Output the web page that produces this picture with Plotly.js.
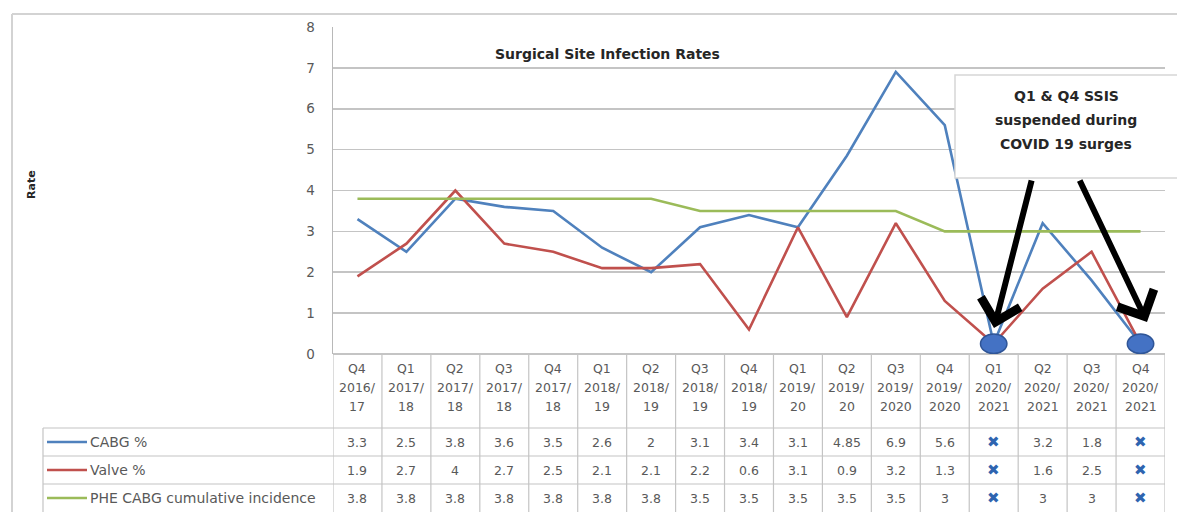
<!DOCTYPE html>
<html><head><meta charset="utf-8">
<script src="https://cdn.plot.ly/plotly-3.0.1.min.js"></script>
<style>html,body{margin:0;padding:0;background:#fff}#chart{width:1177px;height:512px}</style>
</head><body><div id="chart"></div>
<script>
// ---- data ----
const categories = ['Q4 2016/17','Q1 2017/18','Q2 2017/18','Q3 2017/18','Q4 2017/18','Q1 2018/19','Q2 2018/19','Q3 2018/19','Q4 2018/19','Q1 2019/20','Q2 2019/20','Q3 2019/2020','Q4 2019/2020','Q1 2020/2021','Q2 2020/2021','Q3 2020/2021','Q4 2020/2021'];
const cabgTable  = ['3.3','2.5','3.8','3.6','3.5','2.6','2','3.1','3.4','3.1','4.85','6.9','5.6','✖','3.2','1.8','✖'];
const valveTable = ['1.9','2.7','4','2.7','2.5','2.1','2.1','2.2','0.6','3.1','0.9','3.2','1.3','✖','1.6','2.5','✖'];
const pheTable   = ['3.8','3.8','3.8','3.8','3.8','3.8','3.8','3.5','3.5','3.5','3.5','3.5','3','✖','3','3','✖'];
// values as drawn in the chart (suspended quarters drawn near zero)
const cabgPlot  = [3.3,2.5,3.8,3.6,3.5,2.6,2,3.1,3.4,3.1,4.85,6.9,5.6,0.25,3.2,1.8,0.25];
const valvePlot = [1.9,2.7,4,2.7,2.5,2.1,2.1,2.2,0.6,3.1,0.9,3.2,1.3,0.25,1.6,2.5,0.25];
const phePlot   = [3.8,3.8,3.8,3.8,3.8,3.8,3.8,3.5,3.5,3.5,3.5,3.5,3,3,3,3,3];
const seriesNames = ['CABG %','Valve %','PHE CABG cumulative incidence'];
const seriesColors = ['#4F81BD','#C0504D','#9BBB59'];
const yTicks = [0,1,2,3,4,5,6,7,8];
const chartTitle = 'Surgical Site Infection Rates';
const yTitle = 'Rate';
const noteLines = ['Q1 &amp; Q4 SSIS','suspended during','COVID 19 surges'];

// ---- geometry helpers (pixels -> paper) ----
const W = 1177, H = 512;
const px = x => x / W;
const py = y => 1 - y / H;
const FONT = 'DejaVu Sans, sans-serif';
const GREY = '#595959';
const LINEC = '#c4c4c4';

const plotVals = [cabgPlot, valvePlot, phePlot];
const tableVals = [cabgTable, valveTable, pheTable];

const traces = plotVals.map((v, k) => ({
  type: 'scatter', mode: 'lines', x: categories, y: v, name: seriesNames[k],
  line: {color: seriesColors[k], width: 2.6}, showlegend: false, hoverinfo: 'skip'
}));

const shapes = [];
const annotations = [];

// outer chart border
shapes.push({type:'line', xref:'paper', yref:'paper', x0:px(12), x1:1, y0:py(14), y1:py(14), line:{color:'#d3d3d3', width:2}});
shapes.push({type:'line', xref:'paper', yref:'paper', x0:px(12), x1:px(12), y0:py(14), y1:0, line:{color:'#d3d3d3', width:2}});

// table grid
const rowTops = [354, 428, 456, 484, 512];
for (let i = 0; i <= categories.length; i++) {
  shapes.push({type:'line', xref:'x', yref:'paper', x0:i-0.5, x1:i-0.5, y0:py(354), y1:0, line:{color:LINEC, width:1.2}});
}
for (let r = 1; r < 4; r++) {
  shapes.push({type:'line', xref:'paper', yref:'paper', x0:px(43), x1:px(1165), y0:py(rowTops[r]), y1:py(rowTops[r]), line:{color:LINEC, width:1.2}});
}
shapes.push({type:'line', xref:'paper', yref:'paper', x0:px(43), x1:px(43), y0:py(428), y1:0, line:{color:LINEC, width:1.2}});

// header labels
categories.forEach((c, i) => {
  const [q, fy] = c.split(' ');
  const [a, b] = fy.split('/');
  [[q, 368], [a + '/', 387], [b, 406]].forEach(([t, y]) => {
    annotations.push({xref:'x', yref:'paper', x:i, y:py(y), text:t, showarrow:false,
      xanchor:'center', yanchor:'middle', font:{family:FONT, size:12.5, color:GREY}});
  });
});

// table values
const rowCenters = [442, 470, 498];
tableVals.forEach((vals, k) => {
  vals.forEach((t, i) => {
    const isX = t === '✖';
    annotations.push({xref:'x', yref:'paper', x:i, y:py(rowCenters[k]), text:t, showarrow:false,
      xanchor:'center', yanchor:'middle',
      font:{family:FONT, size:isX ? 15 : 12.5, color:isX ? '#2E64B0' : GREY}});
  });
  shapes.push({type:'line', xref:'paper', yref:'paper', x0:px(47), x1:px(87), y0:py(rowCenters[k]), y1:py(rowCenters[k]), line:{color:seriesColors[k], width:2.4}});
  annotations.push({xref:'paper', yref:'paper', x:px(88), y:py(rowCenters[k]), text:seriesNames[k], showarrow:false,
    xanchor:'left', yanchor:'middle', font:{family:FONT, size:14, color:GREY}});
});

// suspended markers (ellipses) at the drawn near-zero points
cabgTable.forEach((t, i) => {
  if (t === '✖') {
    const v = cabgPlot[i];
    shapes.push({type:'circle', xref:'x', yref:'y', x0:i-0.27, x1:i+0.27, y0:v-0.24, y1:v+0.24,
      fillcolor:'#4472C4', line:{color:'#2F5597', width:1.5}, layer:'above'});
  }
});

// note box
shapes.push({type:'rect', xref:'paper', yref:'paper', x0:px(955), x1:1.01, y0:py(178), y1:py(75),
  fillcolor:'#ffffff', line:{color:'#d6d6d6', width:1.5}, layer:'above'});
noteLines.forEach((t, j) => {
  annotations.push({xref:'paper', yref:'paper', x:px(1066), y:py(96 + j*24), text:'<b>' + t + '</b>', showarrow:false,
    xanchor:'center', yanchor:'middle', font:{family:FONT, size:14, color:'#262626'}});
});

// arrows
const arrowSpec = [[994, 328, 1032, 179], [1147, 322, 1079, 179]];
arrowSpec.forEach(([tx, ty, sx, sy]) => {
  annotations.push({xref:'paper', yref:'paper', x:px(tx), y:py(ty), ax:sx - tx, ay:sy - ty, text:'',
    showarrow:true, arrowhead:4, arrowsize:1.3, arrowwidth:6, arrowcolor:'#000000', standoff:0, startstandoff:0});
});

// title and y-axis title
annotations.push({xref:'paper', yref:'paper', x:px(607), y:py(54), text:'<b>' + chartTitle + '</b>', showarrow:false,
  xanchor:'center', yanchor:'middle', font:{family:FONT, size:14, color:'#262626'}});
annotations.push({xref:'paper', yref:'paper', x:px(31), y:py(185), text:'<b>' + yTitle + '</b>', showarrow:false,
  textangle:-90, xanchor:'center', yanchor:'middle', font:{family:FONT, size:11, color:'#262626'}});

const layout = {
  width: W, height: H,
  margin: {l:0, r:0, t:0, b:0, pad:0},
  paper_bgcolor: '#ffffff', plot_bgcolor: '#ffffff',
  showlegend: false,
  xaxis: {type:'category', domain:[px(333), px(1165)], range:[-0.5, categories.length - 0.5],
    showticklabels:false, showgrid:false, zeroline:false, ticks:'', showline:false, fixedrange:true},
  yaxis: {domain:[py(354), py(27)], range:[0, 8], tickvals:yTicks, ticks:'', showline:true,
    linecolor:'#b8b8b8', linewidth:1.5, gridcolor:'#c4c4c4', gridwidth:1.6, zeroline:true,
    zerolinecolor:'#c4c4c4', zerolinewidth:1.5, ticklabelstandoff:14,
    tickfont:{family:FONT, size:13.5, color:GREY}, fixedrange:true},
  shapes: shapes,
  annotations: annotations
};

Plotly.newPlot('chart', traces, layout, {displayModeBar:false, staticPlot:true});
</script>
</body></html>
